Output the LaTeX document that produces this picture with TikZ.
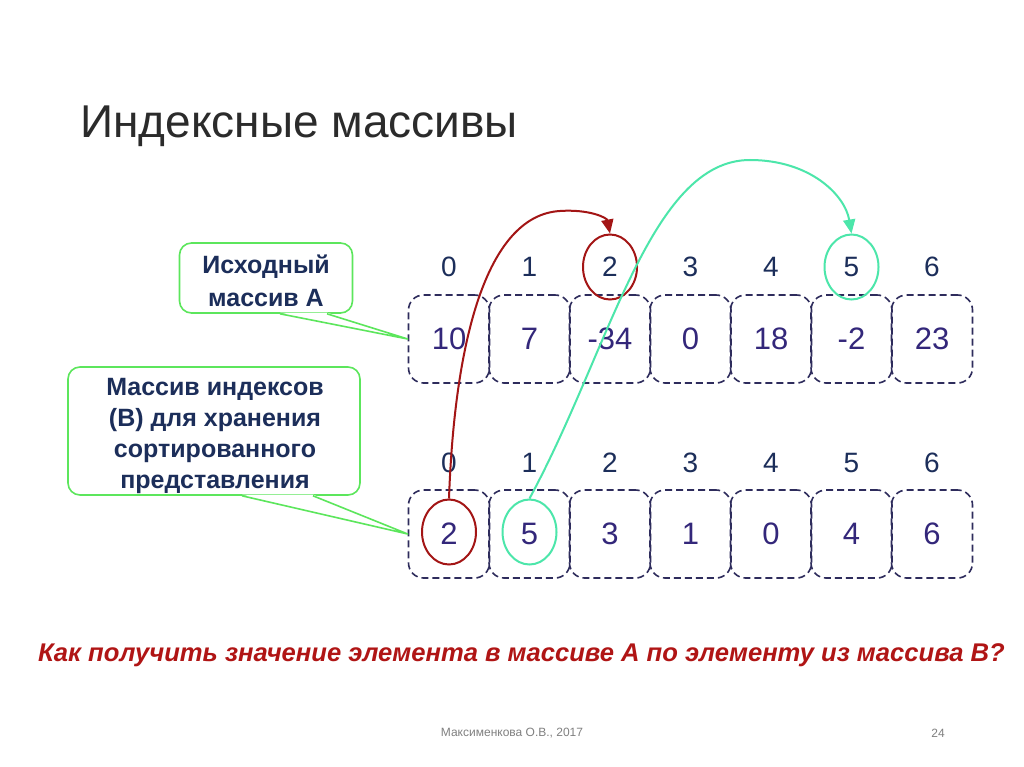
\documentclass[tikz,border=0pt]{standalone}
\usepackage{fontspec}
\setmainfont{Liberation Sans}
\usetikzlibrary{positioning,arrows.meta,shapes.geometric}

\definecolor{navy}{HTML}{1C2E5A}
\definecolor{cellnum}{HTML}{33277A}
\definecolor{cellline}{HTML}{2E2C5C}
\definecolor{calloutgreen}{HTML}{5CE65C}
\definecolor{arrred}{HTML}{A31515}
\definecolor{arrgreen}{HTML}{4CE6AA}
\definecolor{qred}{HTML}{B01515}
\definecolor{titlegray}{HTML}{2B2B2B}

\begin{document}
\begin{tikzpicture}[x=1pt, y=-1pt,
  cellbox/.style={draw=cellline, dash pattern=on 7pt off 4pt, line width=1.6pt,
    rounded corners=15pt, minimum width=81pt, minimum height=88pt, inner sep=0pt,
    text=cellnum, font=\fontsize{31}{34}\selectfont},
  idxlab/.style={text=navy, font=\fontsize{28}{30}\selectfont},
  callbox/.style={draw=calloutgreen, fill=white, line width=1.6pt, rounded corners=12pt, inner sep=0pt},
  calltext/.style={align=center, text=navy, inner sep=0pt, font=\fontsize{25}{#1}\selectfont\bfseries},
  callline/.style={draw=calloutgreen, line width=1.6pt, line join=round},
  ring/.style={draw=#1, ellipse, line width=2pt, minimum width=54pt, minimum height=65pt, inner sep=0pt},
  jump/.style={draw=#1, line width=2pt, -{Triangle[length=14pt,width=12pt]}}
]

  \def\cellX{449}
  \def\cellStep{80.5}

  \fill[white] (0,0) rectangle (1024,767);
  \useasboundingbox (0,0) rectangle (1024,767);

  % title
  \node[anchor=base west, text=titlegray, font=\fontsize{46}{50}\selectfont, inner sep=0pt]
    (title) at (80,138) {Индексные массивы};

  % array A and its indices
  \foreach \v [count=\i from 0] in {10,7,-34,0,18,-2,23} {
    \node[cellbox] (a\i) at ({\cellX+\cellStep*\i},339) {\v};
    \node[idxlab] (ia\i) at ({\cellX+\cellStep*\i},267) {\i};
  }

  % index array B
  \foreach \v [count=\i from 0] in {2,5,3,1,0,4,6} {
    \node[cellbox] (b\i) at ({\cellX+\cellStep*\i},534) {\v};
    \node[idxlab] (ib\i) at ({\cellX+\cellStep*\i},463) {\i};
  }

  % callouts
  \node[callbox, minimum width=173pt, minimum height=70pt] (calloutA) at (266,278) {};
  \fill[white] ([xshift=14pt,yshift=1.2pt]calloutA.south) -- (a0.west)
    -- ([xshift=61pt,yshift=1.2pt]calloutA.south) -- cycle;
  \draw[callline] ([xshift=14pt]calloutA.south) -- (a0.west) -- ([xshift=61pt]calloutA.south);
  \node[calltext=33] (textA) at (266,281) {Исходный\\массив А};

  \node[callbox, minimum width=292pt, minimum height=128pt] (calloutB) at (214,431) {};
  \fill[white] ([xshift=28pt,yshift=1.2pt]calloutB.south) -- (b0.west)
    -- ([xshift=99pt,yshift=1.2pt]calloutB.south) -- cycle;
  \draw[callline] ([xshift=28pt]calloutB.south) -- (b0.west) -- ([xshift=99pt]calloutB.south);
  \node[calltext=31] (textB) at (215,436)
    {Массив индексов\\(В) для хранения\\сортированного\\представления};

  % rings
  \node[ring=arrred] (ra) at (ia2) {};
  \node[ring=arrgreen] (ga) at (ia5) {};
  \node[ring=arrred] (rb) at ([yshift=2pt]b0.center) {};
  \node[ring=arrgreen] (gb) at ([yshift=2pt]b1.center) {};

  % jumps from B to A
  \draw[jump=arrred] (rb.north) .. controls (455,330) and (490,215) .. (560,211)
    .. controls (590,209) and (607,218) .. (ra.north);
  \draw[jump=arrgreen] (gb.north) .. controls (610,350) and (650,160) .. (750,160)
    .. controls (810,160) and (845,195) .. (ga.north);

  % question
  \node[anchor=west, text=qred, font=\fontsize{25.6}{28}\selectfont\bfseries\itshape, inner sep=0pt]
    (question) at (38,655) {Как получить значение элемента в массиве А по элементу из массива В?};

  % footer
  \node[text=gray, font=\fontsize{12}{14}\selectfont] (footer) at (512,733) {Максименкова О.В., 2017};
  \node[text=gray, font=\fontsize{12}{14}\selectfont] (pagenum) at (938,733) {24};

\end{tikzpicture}
\end{document}
